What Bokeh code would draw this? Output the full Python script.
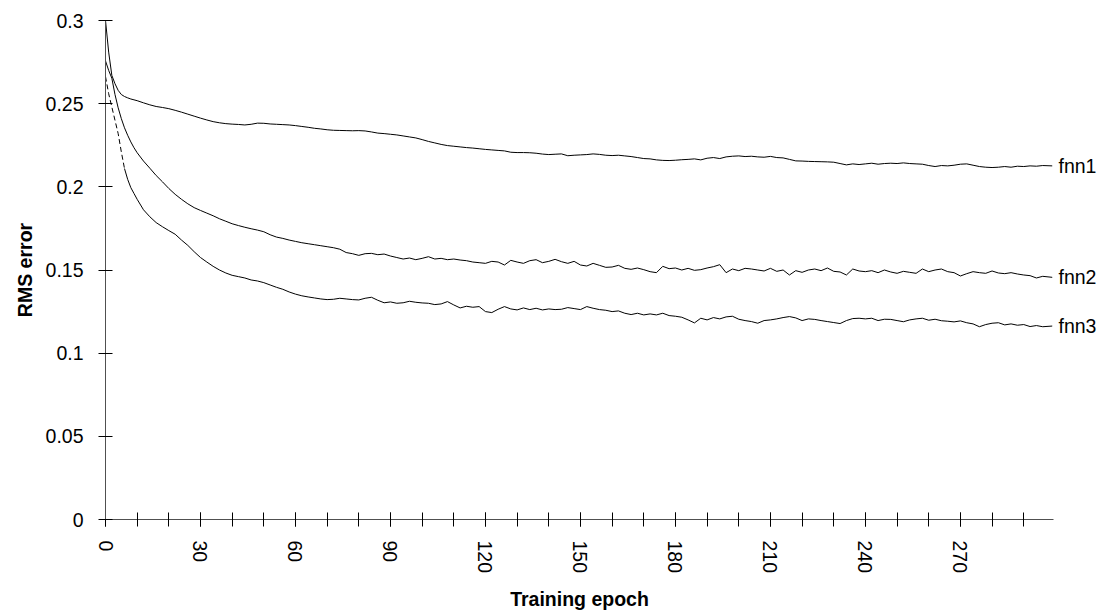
from bokeh.plotting import figure
from bokeh.models import Range1d, FixedTicker, CustomJSTickFormatter, LinearAxis
from bokeh.embed import file_html
from bokeh.resources import INLINE

# ---------------- data ----------------
EPOCHS = list(range(0, 11)) + list(range(12, 298, 2)) + [299]

FNN1 = [
    0.300, 0.281, 0.267, 0.262, 0.258, 0.2555, 0.2543, 0.2535, 0.2528, 0.2523, 0.2518,
    0.2505, 0.2493, 0.2483, 0.2477, 0.2470, 0.2460, 0.2449, 0.2437, 0.2425, 0.2413,
    0.2402, 0.2392, 0.2385, 0.2380, 0.2377, 0.2375, 0.2372, 0.2376, 0.2383, 0.2382,
    0.2378, 0.2376, 0.2374, 0.2372, 0.2368, 0.2363, 0.2358, 0.2352, 0.2348, 0.2343,
    0.2340, 0.2339, 0.2338, 0.2337, 0.2338, 0.2336, 0.2330, 0.2323, 0.2320, 0.2316,
    0.2312, 0.2306, 0.2300, 0.2294, 0.2284, 0.2273, 0.2264, 0.2255, 0.2248, 0.2244,
    0.2240, 0.2236, 0.2233, 0.2229, 0.2225, 0.2222, 0.2219, 0.2216, 0.2208, 0.2206,
    0.2206, 0.2205, 0.2202, 0.2197, 0.2194, 0.2196, 0.2198, 0.2187, 0.2190, 0.2192,
    0.2194, 0.2198, 0.2195, 0.2190, 0.2188, 0.2190, 0.2186, 0.2182, 0.2176, 0.2170,
    0.2168, 0.2162, 0.2159, 0.2158, 0.2160, 0.2163, 0.2165, 0.2168, 0.2162, 0.2172,
    0.2176, 0.2170, 0.2180, 0.2184, 0.2186, 0.2182, 0.2184, 0.2180, 0.2178, 0.2183,
    0.2176, 0.2174, 0.2165, 0.2156, 0.2155, 0.2153, 0.2152, 0.2151, 0.2150, 0.2148,
    0.2140, 0.2132, 0.2138, 0.2134, 0.2138, 0.2142, 0.2136, 0.2140, 0.2142, 0.2140,
    0.2144, 0.2140, 0.2138, 0.2136, 0.2128, 0.2122, 0.2128, 0.2126, 0.2130, 0.2136,
    0.2138, 0.2130, 0.2122, 0.2118, 0.2116, 0.2118, 0.2122, 0.2118, 0.2124, 0.2122,
    0.2126, 0.2124, 0.2128, 0.2126,
]

FNN2 = [
    0.2757, 0.2700, 0.2653, 0.2555, 0.2475, 0.2410, 0.2355, 0.2310, 0.2270, 0.2235, 0.2205,
    0.2155, 0.2112, 0.2068, 0.2030, 0.1990, 0.1955, 0.1925, 0.1898, 0.1875, 0.1858,
    0.1842, 0.1826, 0.1808, 0.1793, 0.1778, 0.1767, 0.1757, 0.1748, 0.1740, 0.1730,
    0.1712, 0.1698, 0.1690, 0.1680, 0.1672, 0.1664, 0.1658, 0.1652, 0.1646, 0.1640,
    0.1634, 0.1625, 0.1605, 0.1598, 0.1588, 0.1598, 0.1600, 0.1592, 0.1596, 0.1584,
    0.1575, 0.1566, 0.1572, 0.1562, 0.1570, 0.1580, 0.1566, 0.1570, 0.1562, 0.1566,
    0.1560, 0.1556, 0.1548, 0.1544, 0.1540, 0.1552, 0.1548, 0.1530, 0.1558, 0.1548,
    0.1540, 0.1556, 0.1562, 0.1544, 0.1552, 0.1564, 0.1550, 0.1540, 0.1552, 0.1530,
    0.1524, 0.1540, 0.1528, 0.1516, 0.1518, 0.1528, 0.1510, 0.1504, 0.1512, 0.1502,
    0.1490, 0.1484, 0.1522, 0.1508, 0.1512, 0.1500, 0.1510, 0.1498, 0.1502, 0.1512,
    0.1520, 0.1532, 0.1484, 0.1506, 0.1496, 0.1510, 0.1506, 0.1500, 0.1494, 0.1510,
    0.1492, 0.1500, 0.1470, 0.1496, 0.1486, 0.1500, 0.1506, 0.1496, 0.1512, 0.1492,
    0.1488, 0.1470, 0.1506, 0.1494, 0.1490, 0.1496, 0.1484, 0.1500, 0.1488, 0.1480,
    0.1492, 0.1486, 0.1480, 0.1506, 0.1490, 0.1500, 0.1506, 0.1490, 0.1484, 0.1464,
    0.1478, 0.1490, 0.1484, 0.1480, 0.1494, 0.1482, 0.1478, 0.1484, 0.1476, 0.1470,
    0.1466, 0.1452, 0.1462, 0.1456,
]

FNN3 = [
    0.2663, 0.2560, 0.2480, 0.2400, 0.2320, 0.2210, 0.2110, 0.2045, 0.1995, 0.1960, 0.1925,
    0.1862, 0.1820, 0.1785, 0.1760, 0.1737, 0.1715, 0.1680, 0.1648, 0.1610, 0.1575,
    0.1548, 0.1522, 0.1500, 0.1482, 0.1468, 0.1460, 0.1452, 0.1440, 0.1434, 0.1424,
    0.1410, 0.1396, 0.1384, 0.1368, 0.1355, 0.1345, 0.1338, 0.1332, 0.1326, 0.1322,
    0.1324, 0.1330, 0.1326, 0.1322, 0.1320, 0.1330, 0.1336, 0.1318, 0.1303, 0.1308,
    0.1300, 0.1303, 0.1312, 0.1306, 0.1302, 0.1300, 0.1292, 0.1296, 0.1310, 0.1290,
    0.1272, 0.1282, 0.1276, 0.1280, 0.1250, 0.1244, 0.1264, 0.1280, 0.1266, 0.1260,
    0.1272, 0.1262, 0.1270, 0.1260, 0.1266, 0.1262, 0.1264, 0.1274, 0.1268, 0.1262,
    0.1280, 0.1270, 0.1262, 0.1258, 0.1250, 0.1254, 0.1240, 0.1232, 0.1240, 0.1230,
    0.1236, 0.1230, 0.1240, 0.1226, 0.1222, 0.1216, 0.1200, 0.1182, 0.1210, 0.1200,
    0.1214, 0.1206, 0.1218, 0.1222, 0.1204, 0.1196, 0.1190, 0.1180, 0.1196, 0.1200,
    0.1206, 0.1214, 0.1220, 0.1212, 0.1196, 0.1206, 0.1203, 0.1196, 0.1190, 0.1184,
    0.1178, 0.1196, 0.1208, 0.1210, 0.1206, 0.1210, 0.1196, 0.1204, 0.1203, 0.1196,
    0.1189, 0.1200, 0.1206, 0.1210, 0.1198, 0.1204, 0.1195, 0.1192, 0.1188, 0.1194,
    0.1183, 0.1176, 0.1159, 0.1172, 0.1180, 0.1183, 0.1170, 0.1176, 0.1168, 0.1172,
    0.1160, 0.1166, 0.1159, 0.1163,
]

SERIES_NAMES = ["fnn1", "fnn2", "fnn3"]
X_MAJOR_TICKS = [0, 30, 60, 90, 120, 150, 180, 210, 240, 270]
X_MINOR_TICKS = list(range(0, 300, 10))
Y_TICKS = [0, 0.05, 0.1, 0.15, 0.2, 0.25, 0.3]
DASH_END = 7  # first points of fnn3 drawn dashed

n = min(len(EPOCHS), len(FNN1), len(FNN2), len(FNN3))
x = EPOCHS[:n]
series = [FNN1[:n], FNN2[:n], FNN3[:n]]

FONT = "Liberation Sans"
FS = "19.5px"

p = figure(
    width=1103, height=613,
    output_backend="svg", toolbar_location=None,
    x_range=Range1d(0, 299.4), y_range=Range1d(0, 0.3),
    min_border_left=105, min_border_right=50,
    min_border_top=20, min_border_bottom=94,
)
p.xgrid.visible = False
p.ygrid.visible = False
p.outline_line_color = None
p.background_fill_color = "white"
p.border_fill_color = "white"

# lines
p.line(x, series[0], line_color="black", line_width=1)
p.line(x, series[1], line_color="black", line_width=1)
p.line(x[:DASH_END], series[2][:DASH_END], line_color="black", line_width=1, line_dash="5 3")
p.line(x[DASH_END - 1:], series[2][DASH_END - 1:], line_color="black", line_width=1)

# series labels at line ends, via an unlined right axis (outside the frame)
end_vals = [s[-1] for s in series]
right = LinearAxis(
    ticker=FixedTicker(ticks=end_vals),
    formatter=CustomJSTickFormatter(
        args=dict(vals=end_vals, names=SERIES_NAMES),
        code="""
        for (let i = 0; i < vals.length; i++) {
            if (Math.abs(tick - vals[i]) < 1e-6) return names[i];
        }
        return "";
        """),
    axis_line_color=None,
    major_tick_line_color=None,
    minor_tick_line_color=None,
    major_tick_in=0, major_tick_out=0,
    major_label_standoff=5,
    major_label_text_font=FONT,
    major_label_text_font_size=FS,
    major_label_text_color="black",
)
p.add_layout(right, "right")

# x axis
xa = p.xaxis[0]
xa.ticker = FixedTicker(ticks=X_MAJOR_TICKS, minor_ticks=X_MINOR_TICKS)
xa.major_label_orientation = "vertical"
xa.axis_label = "Training epoch"
xa.major_label_standoff = 14
xa.axis_label_standoff = 12

# y axis
ya = p.yaxis[0]
ya.ticker = FixedTicker(ticks=Y_TICKS)
ya.formatter = CustomJSTickFormatter(code="return String(parseFloat(tick.toFixed(3)));")
ya.axis_label = "RMS error"
ya.major_label_standoff = 15
ya.axis_label_standoff = 7

for ax in (xa, ya):
    ax.axis_line_color = "#505050"
    ax.axis_line_width = 1
    ax.major_tick_in = 7
    ax.major_tick_out = 7
    ax.minor_tick_in = 7
    ax.minor_tick_out = 7
    ax.major_tick_line_color = "black"
    ax.minor_tick_line_color = "black"
    ax.major_label_text_font = FONT
    ax.major_label_text_font_size = FS
    ax.major_label_text_color = "black"
    ax.axis_label_text_font = FONT
    ax.axis_label_text_font_size = FS
    ax.axis_label_text_font_style = "bold"
    ax.axis_label_text_color = "black"
ya.minor_tick_line_color = None

open("out.html", "w").write(file_html(p, INLINE))
